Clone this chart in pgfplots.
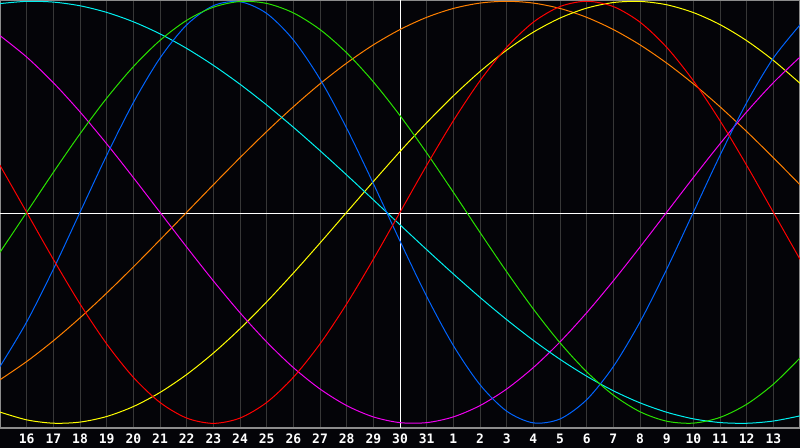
\documentclass[border=0pt]{standalone}
\usepackage{fontspec}
\setmonofont{DejaVu Sans Mono}
\usepackage{pgfplots}
\usepackage{pgfplotstable}
\pgfplotsset{compat=1.18}
\definecolor{bg}{RGB}{4,4,8}
\definecolor{gridc}{RGB}{55,55,55}
\definecolor{framec}{RGB}{140,140,140}
\definecolor{cred}{RGB}{255,0,0}
\definecolor{cgreen}{RGB}{40,225,0}
\definecolor{cblue}{RGB}{0,100,255}
\definecolor{ccyan}{RGB}{0,240,240}
\definecolor{cmag}{RGB}{240,0,240}
\definecolor{cyel}{RGB}{255,255,0}
\definecolor{corange}{RGB}{255,128,0}
\pgfplotstableread{
k  red     green   blue    cyan     magenta yellow  orange
0  0.2225  -0.1893 -0.7308  0.9890  0.8372 -0.9465 -0.7934
1  0       0       -0.5196  0.9996  0.7357 -0.9834 -0.7071
2  -0.2225 0.1893  -0.2698  0.9961  0.6142 -0.9993 -0.6088
3  -0.4339 0.3717  0        0.9786  0.4759 -0.9940 -0.5
4  -0.6235 0.5406  0.2698   0.9473  0.3247 -0.9675 -0.3827
5  -0.7818 0.6901  0.5196   0.9028  0.1646 -0.9204 -0.2588
6  -0.9010 0.8146  0.7308   0.8456  0      -0.8536 -0.1305
7  -0.9749 0.9096  0.8879   0.7765 -0.1646 -0.7686  0
8  -1      0.9718  0.9791   0.6965 -0.3247 -0.6672  0.1305
9  -0.9749 0.9989  0.9977   0.6068 -0.4759 -0.5517  0.2588
10 -0.9010 0.9898  0.9423   0.5085 -0.6142 -0.4244  0.3827
11 -0.7818 0.9450  0.8170   0.4032 -0.7357 -0.2881  0.5
12 -0.6235 0.8660  0.6311   0.2920 -0.8372 -0.1456  0.6088
13 -0.4339 0.7557  0.3984   0.1769 -0.9158  0       0.7071
14 -0.2225 0.6182  0.1362   0.0592 -0.9694  0.1456  0.7934
15 0       0.4582  -0.1362 -0.0592 -0.9966  0.2881  0.8660
16 0.2225  0.2817  -0.3984 -0.1769 -0.9966  0.4244  0.9239
17 0.4339  0.0951  -0.6311 -0.2920 -0.9694  0.5517  0.9659
18 0.6235  -0.0951 -0.8170 -0.4032 -0.9158  0.6672  0.9914
19 0.7818  -0.2817 -0.9423 -0.5085 -0.8372  0.7686  1
20 0.9010  -0.4582 -0.9977 -0.6068 -0.7357  0.8536  0.9914
21 0.9749  -0.6182 -0.9791 -0.6965 -0.6142  0.9204  0.9659
22 1       -0.7557 -0.8879 -0.7765 -0.4759  0.9675  0.9239
23 0.9749  -0.8660 -0.7308 -0.8456 -0.3247  0.9940  0.8660
24 0.9010  -0.9450 -0.5196 -0.9028 -0.1646  0.9993  0.7934
25 0.7818  -0.9898 -0.2698 -0.9473  0       0.9834  0.7071
26 0.6235  -0.9989 0       -0.9786  0.1646  0.9465  0.6088
27 0.4339  -0.9718 0.2698  -0.9961  0.3247  0.8894  0.5
28 0.2225  -0.9096 0.5196  -0.9996  0.4759  0.8133  0.3827
29 0       -0.8146 0.7308  -0.9890  0.6142  0.7199  0.2588
30 -0.2225 -0.6901 0.8879  -0.9646  0.7357  0.6111  0.1305
}\bio
\begin{document}
\begin{tikzpicture}
\fill[bg] (0,0) rectangle (800bp,448bp);
\begin{axis}[
  at={(0,20bp)}, anchor=south west,
  width=800bp, height=428bp, scale only axis,
  xmin=0, xmax=30, ymin=-1.022, ymax=1.006,
  axis background/.style={fill=bg},
  axis line style={draw=framec, line width=1.2bp},
  xtick={1,...,29},
  xticklabels={16,17,18,19,20,21,22,23,24,25,26,27,28,29,30,31,1,2,3,4,5,6,7,8,9,10,11,12,13},
  ytick=\empty,
  major tick length=0pt,
  xmajorgrids,
  grid style={draw=gridc, line width=1bp},
  extra x ticks={15}, extra x tick labels={},
  extra x tick style={grid style={draw=white, line width=1bp}},
  extra y ticks={-0.008}, extra y tick labels={},
  extra y tick style={ymajorgrids, grid style={draw=white, line width=1bp}},
  xticklabel style={text=white, font=\fontsize{13bp}{14bp}\selectfont\ttfamily\bfseries, anchor=center, yshift=-11bp, inner sep=0pt},
  every axis plot/.append style={line width=1bp, smooth, no marks},
  clip=true,
]
\addplot[corange] table[x=k, y=orange] {\bio};
\addplot[cyel] table[x=k, y=yellow] {\bio};
\addplot[cmag] table[x=k, y=magenta] {\bio};
\addplot[ccyan] table[x=k, y=cyan] {\bio};
\addplot[cblue] table[x=k, y=blue] {\bio};
\addplot[cgreen] table[x=k, y=green] {\bio};
\addplot[cred] table[x=k, y=red] {\bio};
\end{axis}
\pgfresetboundingbox
\path (0,0) rectangle (800bp,448bp);
\end{tikzpicture}
\end{document}
